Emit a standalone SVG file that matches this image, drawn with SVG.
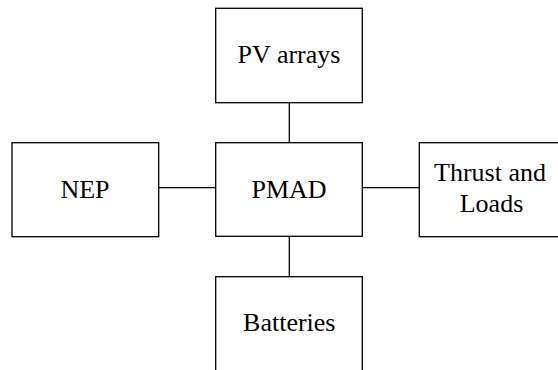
<svg xmlns="http://www.w3.org/2000/svg" width="558" height="370" viewBox="0 0 558 370">
<style>
.box{fill:#fff;stroke:#000;stroke-width:1.3}
.lbl{font-family:"Liberation Serif","Times New Roman",serif;font-size:26px;fill:#000;text-anchor:middle}
.con{stroke:#000;stroke-width:1.3;fill:none}
</style>
<rect width="558" height="370" fill="#fff"/>
<g id="connectors">
<line class="con" x1="289.3" y1="102.7" x2="289.3" y2="142.7"/>
<line class="con" x1="289.3" y1="236.3" x2="289.3" y2="276.7"/>
<line class="con" x1="158.7" y1="187.7" x2="215.7" y2="187.7"/>
<line class="con" x1="362.3" y1="187.7" x2="419.3" y2="187.7"/>
</g>
<g id="pv">
<rect class="box" x="215.7" y="8.3" width="146.6" height="94.4"/>
<text class="lbl" x="289" y="63">PV arrays</text>
</g>
<g id="nep">
<rect class="box" x="12" y="142.7" width="146.7" height="94"/>
<text class="lbl" x="85" y="198.3">NEP</text>
</g>
<g id="pmad">
<rect class="box" x="215.7" y="142.7" width="146.6" height="93.6"/>
<text class="lbl" x="289" y="198.3">PMAD</text>
</g>
<g id="thrust">
<rect class="box" x="419.3" y="142.7" width="146.6" height="94"/>
<text class="lbl" x="490" y="181">Thrust and</text>
<text class="lbl" x="491.5" y="211.7">Loads</text>
</g>
<g id="batteries">
<rect class="box" x="215.7" y="276.7" width="146.6" height="100"/>
<text class="lbl" x="289.3" y="331">Batteries</text>
</g>
</svg>
